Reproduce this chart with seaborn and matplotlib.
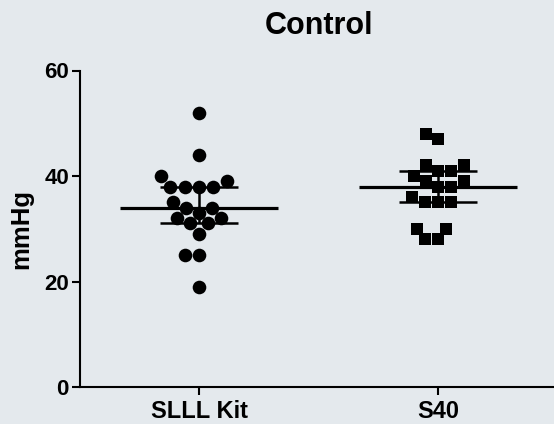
import numpy as np
import pandas as pd
import matplotlib
matplotlib.use("Agg")
import matplotlib.pyplot as plt
import seaborn as sns

categories = ["SLLL Kit", "S40"]
slll_kit = [52, 44, 40, 39, 38, 38, 38, 38, 35, 34, 34, 33, 32, 32, 31, 31, 29, 25, 25, 19]
s40 = [48, 47, 42, 42, 41, 41, 40, 39, 39, 38, 38, 36, 35, 35, 35, 30, 30, 28, 28]
yticks = [0, 20, 40, 60]

bg = "#E4E9ED"
sns.set_theme(style="ticks")
plt.rcParams["font.family"] = ["Liberation Sans", "DejaVu Sans"]
plt.rcParams["font.weight"] = "bold"
plt.rcParams["text.color"] = "black"
plt.rcParams["axes.labelcolor"] = "black"
plt.rcParams["xtick.color"] = "black"
plt.rcParams["ytick.color"] = "black"

fig = plt.figure(figsize=(5.54, 4.24), dpi=100, facecolor=bg)
ax = fig.add_axes([80 / 554, (424 - 387) / 424, 1 - 80 / 554, (387 - 70.5) / 424])
ax.set_facecolor(bg)

df = pd.DataFrame({
    "group": [categories[0]] * len(slll_kit) + [categories[1]] * len(s40),
    "value": slll_kit + s40,
})

sns.swarmplot(data=df[df.group == categories[0]], x="group", y="value", order=categories,
              color="black", marker="o", size=9.8, linewidth=0, ax=ax, zorder=3)
sns.swarmplot(data=df[df.group == categories[1]], x="group", y="value", order=categories,
              color="black", marker="s", size=9.2, linewidth=0, ax=ax, zorder=3)

for i, cat in enumerate(categories):
    v = df.loc[df.group == cat, "value"].to_numpy()
    med = np.median(v)
    q1, q3 = np.percentile(v, [25, 75])
    ax.hlines(med, i - 0.33, i + 0.33, color="black", lw=2.3, zorder=4)
    ax.vlines(i, q1, q3, color="black", lw=1.8, zorder=4)
    ax.hlines([q1, q3], i - 0.163, i + 0.163, color="black", lw=1.8, zorder=4)

ax.set_xlim(-0.498, 1.485)
ax.set_ylim(0, 60)
ax.set_yticks(yticks)
ax.set_xlabel("")
ax.set_ylabel("mmHg", fontsize=18.5, fontweight="bold", labelpad=8, color="black")
ax.set_title("Control", fontsize=22, fontweight="bold", pad=26, x=(319 - 80) / (554 - 80),
             color="black")
for side in ["top", "right"]:
    ax.spines[side].set_visible(False)
for side in ["left", "bottom"]:
    ax.spines[side].set_linewidth(1.5)
    ax.spines[side].set_color("black")
ax.tick_params(axis="both", length=6, width=1.5, color="black", labelcolor="black",
               direction="out")
ax.tick_params(axis="y", labelsize=16, pad=2)
ax.tick_params(axis="x", labelsize=17, pad=3)
for lab in ax.get_xticklabels() + ax.get_yticklabels():
    lab.set_fontweight("bold")

fig.savefig("out.png", dpi=100, facecolor=bg)
